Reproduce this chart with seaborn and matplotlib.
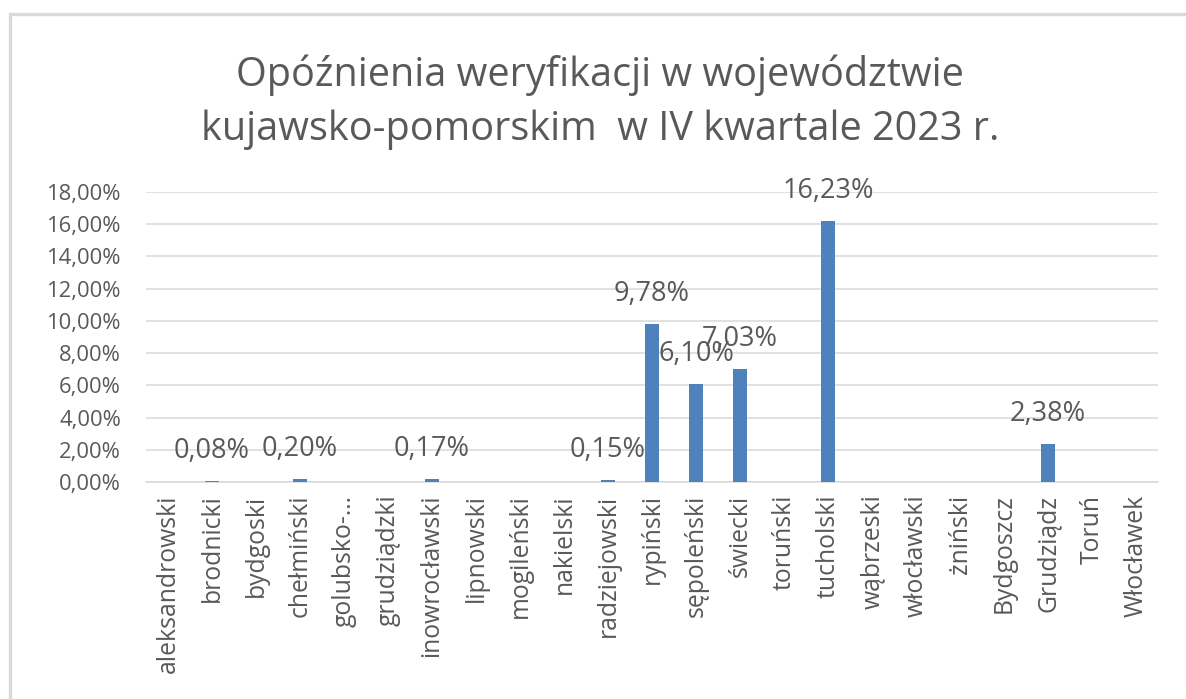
import matplotlib.pyplot as plt
import matplotlib.ticker as mticker
from matplotlib.patches import Rectangle
import seaborn as sns

# ── data ──────────────────────────────────────────────────────────────────────
powiaty = [
    "aleksandrowski", "brodnicki", "bydgoski", "chełmiński", "golubsko-…",
    "grudziądzki", "inowrocławski", "lipnowski", "mogileński", "nakielski",
    "radziejowski", "rypiński", "sępoleński", "świecki", "toruński",
    "tucholski", "wąbrzeski", "włocławski", "żniński", "Bydgoszcz",
    "Grudziądz", "Toruń", "Włocławek",
]
opoznienia = [
    0.0, 0.0008, 0.0, 0.0020, 0.0,
    0.0, 0.0017, 0.0, 0.0, 0.0,
    0.0015, 0.0978, 0.0610, 0.0703, 0.0,
    0.1623, 0.0, 0.0, 0.0, 0.0,
    0.0238, 0.0, 0.0,
]
y_ticks = [0.00, 0.02, 0.04, 0.06, 0.08, 0.10, 0.12, 0.14, 0.16, 0.18]

TITLE = "Opóźnienia weryfikacji w województwie\nkujawsko-pomorskim  w IV kwartale 2023 r."
BAR = "#4F81BD"
TXT = "#595959"
GRID = "#D9D9D9"

# ── canvas ────────────────────────────────────────────────────────────────────
sns.set_theme(style="white")
plt.rcParams["font.family"] = ["Open Sans", "DejaVu Sans"]

fig = plt.figure(figsize=(11.86, 6.99), dpi=100, facecolor="white")
ax = fig.add_axes([146 / 1186, 1 - 482 / 699, 1012 / 1186, 290 / 699])

# chart frame (only left/top edge visible in the crop)
fig.patches.append(Rectangle((10 / 1186, -0.1), 1.2, 1 - 14 / 699 + 0.1,
                             transform=fig.transFigure, fill=False,
                             edgecolor=GRID, linewidth=2.4, zorder=0))

sns.barplot(x=powiaty, y=opoznienia, color=BAR, width=0.32, linewidth=0,
            saturation=1, ax=ax, zorder=3)

ax.set_ylim(0, 0.18)
ax.set_xlim(-0.5, len(powiaty) - 0.5)
ax.set_yticks(y_ticks)
ax.yaxis.set_major_formatter(mticker.FuncFormatter(
    lambda v, _: f"{v * 100:.2f}%".replace(".", ",")))
ax.grid(axis="y", color=GRID, linewidth=1.1, zorder=0)
ax.set_axisbelow(True)
for s in ["left", "right", "top"]:
    ax.spines[s].set_visible(False)
ax.spines["bottom"].set_color(GRID)
ax.spines["bottom"].set_linewidth(1.1)
ax.tick_params(axis="y", colors=TXT, labelsize=15.8, length=0, pad=18)
ax.tick_params(axis="x", colors=TXT, labelsize=17.8, length=0, pad=9,
               labelrotation=90)
ax.set_xlabel("")
ax.set_ylabel("")

# data labels for non-zero values
for i, v in enumerate(opoznienia):
    if v > 0:
        ax.annotate(f"{v * 100:.2f}%".replace(".", ","), (i, v),
                    xytext=(0, 30), textcoords="offset pixels",
                    ha="center", va="center", fontsize=19.5, color=TXT)

fig.text(0.506, 1 - 102 / 699, TITLE, ha="center", va="center",
         fontsize=28.5, color=TXT, linespacing=1.45)

fig.savefig("out.png", dpi=100, facecolor=fig.get_facecolor())
